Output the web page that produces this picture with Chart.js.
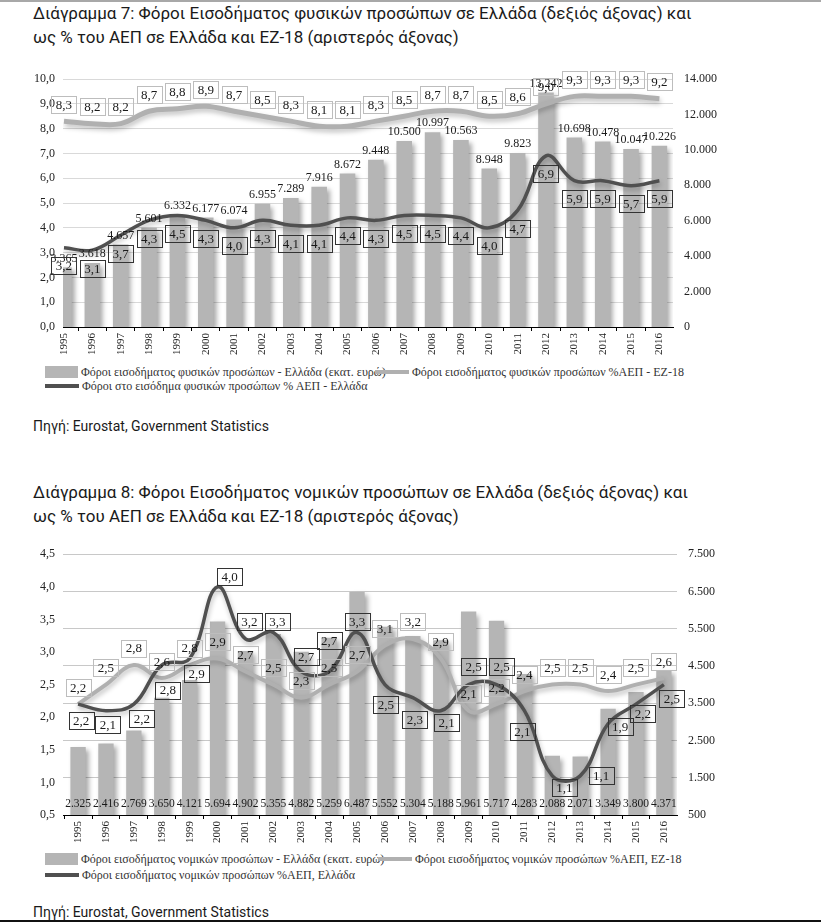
<!DOCTYPE html>
<html>
<head>
<meta charset="utf-8">
<script src="https://cdn.jsdelivr.net/npm/chart.js@4.4.0/dist/chart.umd.min.js"></script>
<style>
body { margin: 0; background: #fff; width: 821px; height: 923px; position: relative; overflow: hidden; font-family: Roboto, sans-serif; }
.topline { position: absolute; left: 0; top: 0; width: 821px; height: 2px; background: #a8a8a8; }
.bottomline { position: absolute; left: 0; top: 920px; width: 821px; height: 2px; background: #111; }
.title { position: absolute; left: 33px; font-size: 17px; line-height: 24px; color: #1a1a1a; white-space: nowrap; }
.src { position: absolute; left: 33px; font-size: 14px; line-height: 16px; color: #1a1a1a; }
canvas { position: absolute; left: 0; }
.li { position: absolute; white-space: nowrap; display: flex; align-items: center; font-family: 'Liberation Serif', serif; font-size: 12px; line-height: 14px; color: #333; }
.sw-bar { width: 33px; height: 12px; background: #b5b5b5; margin-right: 3px; }
.sw-line { width: 34px; height: 4px; margin-right: 3px; }
</style>
</head>
<body>
<div class="topline"></div>

<div class="title" style="top:1px">Διάγραμμα 7: Φόροι Εισοδήματος φυσικών προσώπων σε Ελλάδα (δεξιός άξονας) και<br>ως % του ΑΕΠ σε Ελλάδα και ΕΖ-18 (αριστερός άξονας)</div>
<canvas id="chart7" width="821" height="305" style="top:60px"></canvas>
<div class="li" style="left:45px;top:365px"><span class="sw-bar"></span>Φόροι εισοδήματος φυσικών προσώπων - Ελλάδα (εκατ. ευρώ)</div>
<div class="li" style="left:375px;top:365px"><span class="sw-line" style="background:#b0b0b0"></span>Φόροι εισοδήματος φυσικών προσώπων %ΑΕΠ - ΕΖ-18</div>
<div class="li" style="left:45px;top:379px"><span class="sw-line" style="background:#505050"></span>Φόροι στο εισόδημα φυσικών προσώπων % ΑΕΠ - Ελλάδα</div>
<div class="src" style="top:418px">Πηγή: Eurostat, Government Statistics</div>

<div class="title" style="top:480px">Διάγραμμα 8: Φόροι Εισοδήματος νομικών προσώπων σε Ελλάδα (δεξιός άξονας) και<br>ως % του ΑΕΠ σε Ελλάδα και ΕΖ-18 (αριστερός άξονας)</div>
<canvas id="chart8" width="821" height="314" style="top:536px"></canvas>
<div class="li" style="left:45px;top:852px"><span class="sw-bar"></span>Φόροι εισοδήματος νομικών προσώπων - Ελλάδα (εκατ. ευρώ)</div>
<div class="li" style="left:378px;top:852px"><span class="sw-line" style="background:#b0b0b0"></span>Φόροι εισοδήματος νομικών προσώπων %ΑΕΠ, ΕΖ-18</div>
<div class="li" style="left:45px;top:868px"><span class="sw-line" style="background:#505050"></span>Φόροι εισοδήματος νομικών προσώπων %ΑΕΠ, Ελλάδα</div>
<div class="src" style="top:904px">Πηγή: Eurostat, Government Statistics</div>
<div class="bottomline"></div>

<script>
const years = ['1995', '1996', '1997', '1998', '1999', '2000', '2001', '2002', '2003', '2004', '2005',
    '2006', '2007', '2008', '2009', '2010', '2011', '2012', '2013', '2014', '2015', '2016'];

// Διάγραμμα 7 - φυσικά πρόσωπα
const personalTaxEur = [3365, 3618, 4657, 5601, 6332, 6177, 6074, 6955, 7289, 7916, 8672,
    9448, 10500, 10997, 10563, 8948, 9823, 13242, 10698, 10478, 10047, 10226];
const personalPctEZ18 = [8.3, 8.2, 8.2, 8.7, 8.8, 8.9, 8.7, 8.5, 8.3, 8.1, 8.1,
    8.3, 8.5, 8.7, 8.7, 8.5, 8.6, 9.0, 9.3, 9.3, 9.3, 9.2];
const personalPctGR = [3.2, 3.1, 3.7, 4.3, 4.5, 4.3, 4.0, 4.3, 4.1, 4.1, 4.4,
    4.3, 4.5, 4.5, 4.4, 4.0, 4.7, 6.9, 5.9, 5.9, 5.7, 5.9];

// Διάγραμμα 8 - νομικά πρόσωπα
const corporateTaxEur = [2325, 2416, 2769, 3650, 4121, 5694, 4902, 5355, 4882, 5259, 6487,
    5552, 5304, 5188, 5961, 5717, 4283, 2088, 2071, 3349, 3800, 4371];
const corporatePctEZ18 = [2.2, 2.5, 2.8, 2.6, 2.8, 2.9, 2.7, 2.5, 2.3, 2.5, 2.7,
    3.1, 3.2, 2.9, 2.1, 2.2, 2.4, 2.5, 2.5, 2.4, 2.5, 2.6];
const corporatePctGR = [2.2, 2.1, 2.2, 2.8, 2.9, 4.0, 3.2, 3.3, 2.7, 2.7, 3.3,
    2.5, 2.3, 2.1, 2.5, 2.5, 2.1, 1.1, 1.1, 1.9, 2.2, 2.5];

// where the Greece labels of chart 8 sit relative to their points (px)
const corpGrLabelDx = [3, 2, 8, 6, 7, 12, 4, 4, 5, 0, 0, 1, 2, 6, 5, 5, -2, 12, 21, 12, 7, 8];
const corpGrLabelDy = [16, 14, 14, 25, 15, -10, -17, -11, -15, -31, -11, 20, 22, 12, -18, -18, 21, 12, 0, 3, 9, 14];

const serif = "'Liberation Serif', 'Times New Roman', serif";
const fmtPct = v => v.toFixed(1).replace('.', ',');
const fmtThousands = v => String(Math.round(v)).replace(/\B(?=(\d{3})+(?!\d))/g, '.');
const pts = arr => arr.map((v, i) => ({ x: i, y: v }));

const shadowPlugin = {
    id: 'shadowPlugin',
    beforeDatasetDraw(chart, args) {
        const ds = chart.data.datasets[args.index];
        const ctx = chart.ctx;
        ctx.save();
        ctx.shadowColor = ds.shadowColor || 'rgba(0,0,0,0.3)';
        ctx.shadowBlur = 5;
        ctx.shadowOffsetX = ds.type === 'line' ? 1 : 3;
        ctx.shadowOffsetY = 3;
    },
    afterDatasetDraw(chart) {
        chart.ctx.restore();
    }
};

const labelPlugin = {
    id: 'labelPlugin',
    afterDatasetsDraw(chart) {
        const ctx = chart.ctx;
        chart.data.datasets.forEach((ds, di) => {
            const lab = ds.valueLabels;
            if (!lab) return;
            const meta = chart.getDatasetMeta(di);
            ctx.save();
            ctx.font = lab.size + 'px ' + serif;
            ctx.textAlign = 'center';
            ctx.textBaseline = 'middle';
            meta.data.forEach((el, i) => {
                const text = lab.format(ds.data[i].y);
                const x = el.x + (lab.dx ? lab.dx[i] : 0);
                let y;
                if (lab.fromBottom) {
                    y = chart.chartArea.bottom - lab.fromBottom;
                } else {
                    y = el.y + (Array.isArray(lab.dy) ? lab.dy[i] : lab.dy);
                }
                if (lab.box) {
                    const w = Math.round(ctx.measureText(text).width + 9);
                    const h = 17;
                    ctx.strokeStyle = lab.box;
                    ctx.lineWidth = 1;
                    ctx.strokeRect(Math.round(x - w / 2) + 0.5, Math.round(y - h / 2) + 0.5, w, h);
                }
                ctx.fillStyle = '#1a1a1a';
                ctx.fillText(text, x, y + 1);
            });
            ctx.restore();
        });
    }
};

function buildChart(id, c) {
    const tickFont = { family: serif, size: 12 };
    new Chart(document.getElementById(id), {
        type: 'bar',
        data: {
            datasets: [{
                type: 'bar',
                data: pts(c.bars),
                yAxisID: 'yR',
                backgroundColor: '#b5b5b5',
                barPercentage: 0.55,
                categoryPercentage: 1,
                clip: 0,
                order: 3,
                shadowColor: 'rgba(0,0,0,0.35)',
                valueLabels: c.barLabels
            }, {
                type: 'line',
                data: pts(c.ez),
                yAxisID: 'yL',
                borderColor: '#b0b0b0',
                borderWidth: c.ezWidth,
                pointRadius: 0,
                tension: 0.4,
                order: 2,
                shadowColor: 'rgba(0,0,0,0.25)',
                valueLabels: { size: 13, format: fmtPct, dy: -17, box: '#bdbdbd' }
            }, {
                type: 'line',
                data: pts(c.gr),
                yAxisID: 'yL',
                borderColor: '#505050',
                borderWidth: 3.5,
                pointRadius: 0,
                tension: 0.4,
                order: 1,
                shadowColor: 'rgba(0,0,0,0.25)',
                valueLabels: { size: 13, format: fmtPct, dx: c.grDx, dy: c.grDy, box: '#333' }
            }]
        },
        options: {
            responsive: false,
            animation: false,
            layout: { padding: { top: c.padTop, left: 0, right: 0, bottom: 0 } },
            plugins: { legend: { display: false }, tooltip: { enabled: false } },
            scales: {
                x: {
                    type: 'linear',
                    bounds: 'data',
                    min: c.xMin,
                    max: c.xMax,
                    offset: false,
                    afterBuildTicks: axis => { axis.ticks = years.map((y, i) => ({ value: i })); },
                    afterFit: s => { s.height = c.xHeight; },
                    ticks: {
                        callback: v => years[v],
                        autoSkip: false,
                        minRotation: 90,
                        maxRotation: 90,
                        padding: 2,
                        color: '#222',
                        font: { family: serif, size: 11 }
                    },
                    grid: { drawOnChartArea: false, drawTicks: true, tickLength: 4, color: '#000' },
                    border: { display: true, color: '#000', width: 1 }
                },
                yL: {
                    position: 'left',
                    min: c.leftMin,
                    max: c.leftMax,
                    afterFit: s => { s.width = 63; },
                    ticks: { stepSize: c.leftStep, callback: v => fmtPct(v), padding: 8, color: '#222', font: tickFont },
                    grid: { display: c.gridLeft, drawTicks: false, color: '#d9d9d9' },
                    border: { display: false }
                },
                yR: {
                    position: 'right',
                    min: c.rightMin,
                    max: c.rightMax,
                    afterFit: s => { s.width = c.rightWidth; },
                    ticks: { stepSize: c.rightStep, callback: v => fmtThousands(v), padding: 11, color: '#222', font: tickFont },
                    grid: { display: !c.gridLeft, drawTicks: false, color: '#c8c8c8' },
                    border: { display: false }
                }
            }
        },
        plugins: [shadowPlugin, labelPlugin]
    });
}

buildChart('chart7', {
    bars: personalTaxEur,
    ez: personalPctEZ18,
    gr: personalPctGR,
    ezWidth: 5,
    grDx: null,
    grDy: 18,
    barLabels: { size: 12, format: fmtThousands, dy: -10 },
    padTop: 19,
    xHeight: 38,
    xMin: -0.035,
    xMax: 21.48,
    leftMin: 0, leftMax: 10, leftStep: 1,
    rightMin: 0, rightMax: 14000, rightStep: 2000,
    rightWidth: 148,
    gridLeft: true
});

buildChart('chart8', {
    bars: corporateTaxEur,
    ez: corporatePctEZ18,
    gr: corporatePctGR,
    ezWidth: 4,
    grDx: corpGrLabelDx,
    grDy: corpGrLabelDy,
    barLabels: { size: 11.5, format: fmtThousands, fromBottom: 12 },
    padTop: 18,
    xHeight: 35,
    xMin: -0.54,
    xMax: 21.47,
    leftMin: 0.5, leftMax: 4.5, leftStep: 0.5,
    rightMin: 500, rightMax: 7500, rightStep: 1000,
    rightWidth: 144,
    gridLeft: false
});
</script>
</body>
</html>
